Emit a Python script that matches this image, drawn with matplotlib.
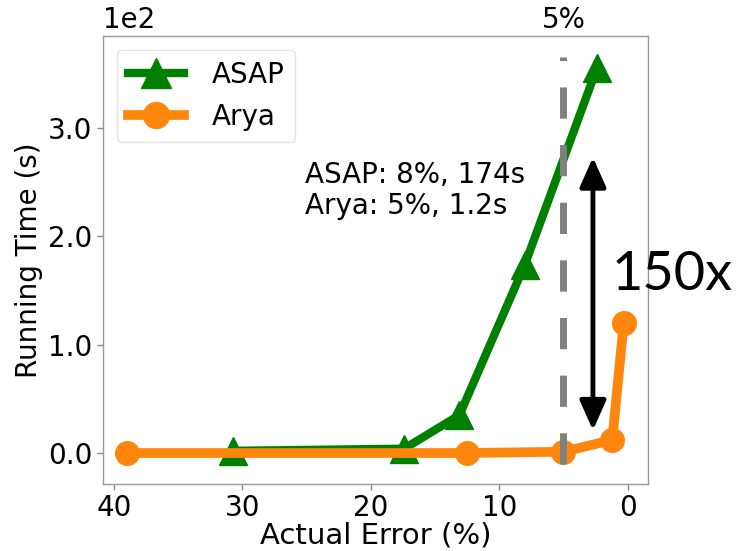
import matplotlib
matplotlib.use("Agg")
import matplotlib.pyplot as plt
from matplotlib.ticker import FuncFormatter

# Running time (seconds) against actual error (%)
asap_error = [30.7, 17.4, 13.1, 8.0, 2.4]
asap_time = [2, 4, 35, 174, 355]
arya_error = [39.0, 12.5, 5.0, 1.2, 0.3]
arya_time = [0, 0, 1.2, 12, 120]

x_ticks = [40, 30, 20, 10, 0]
y_ticks = [0, 100, 200, 300]
target_error = 5
note_text = "ASAP: 8%, 174s\nArya: 5%, 1.2s"
speedup_text = "150x"

plt.rcParams["font.family"] = ["DejaVu Sans"]

fig = plt.figure(figsize=(7.41, 5.51), dpi=100)
ax = fig.add_axes([0.139, 0.1216, 0.735, 0.8131])

ax.plot(asap_error, asap_time, color="green", lw=6, marker="^",
        markersize=20, label="ASAP", zorder=3)
ax.plot(arya_error, arya_time, color="#ff860c", lw=7, marker="o",
        markersize=17, label="Arya", zorder=4)

ax.vlines(target_error, -10, 366, colors="#808080", lw=5,
          linestyles=(0, (4.5, 3.8)), zorder=5)

ax.set_xlim(40.86, -1.56)
ax.set_ylim(-28.6, 385)
ax.set_xticks(x_ticks)
ax.set_yticks(y_ticks)
ax.yaxis.set_major_formatter(FuncFormatter(lambda v, _: f"{v / 100:.1f}"))
ax.tick_params(labelsize=20, color="#888888", length=4, width=1)
ax.tick_params(axis="x", pad=3)
for s in ax.spines.values():
    s.set_color("#999999")
    s.set_linewidth(1)

ax.set_xlabel("Actual Error (%)", fontsize=21, labelpad=0)
ax.set_ylabel("Running Time (s)", fontsize=20, labelpad=4)

ax.text(0.0, 1.005, "1e2", transform=ax.transAxes, fontsize=20,
        ha="left", va="bottom")
ax.text(target_error, 1.005, "5%", transform=ax.get_xaxis_transform(),
        fontsize=20, ha="center", va="bottom")

ax.text(25.1, 270, note_text, fontsize=20, ha="left", va="top",
        linespacing=1.15, zorder=2)

ax.annotate("", xy=(2.7, 273), xytext=(2.7, 21),
            arrowprops=dict(arrowstyle="<|-|>,head_length=0.45,head_width=0.2",
                            mutation_scale=40, color="black", lw=3.5,
                            shrinkA=0, shrinkB=0), zorder=6)

fig.text(612 / 741, 1 - 290 / 551, speedup_text, fontsize=39,
         family="Lato", ha="left", va="baseline")

leg = ax.legend(loc="upper left", fontsize=20, frameon=True,
                borderpad=0.4, handlelength=2.0, handletextpad=1.0,
                markerscale=1.1)
leg.get_frame().set_edgecolor("#dddddd")

fig.savefig("out.png", dpi=100)
